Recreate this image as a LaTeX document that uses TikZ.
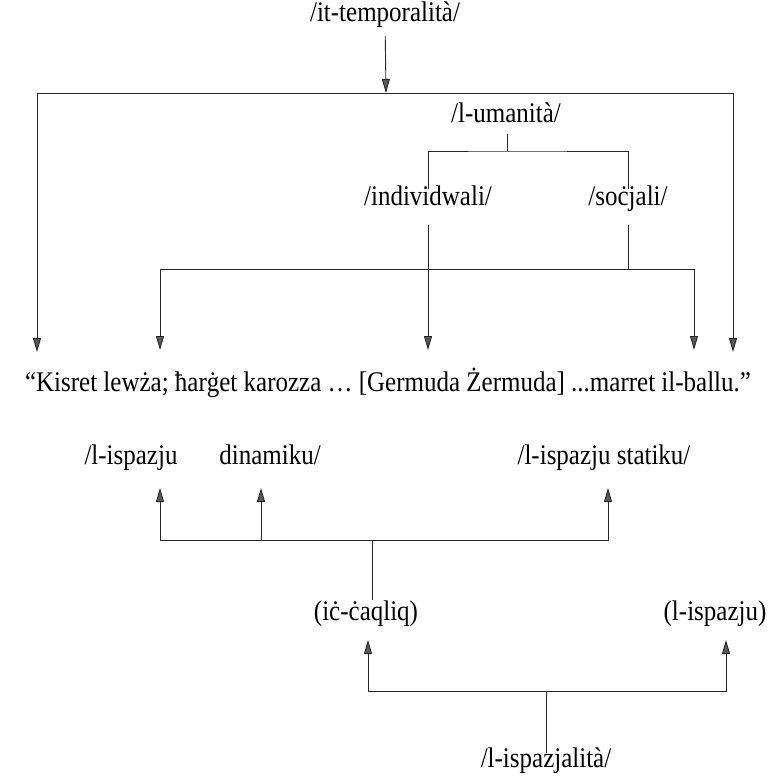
\documentclass[tikz,border=0pt]{standalone}
\usepackage{fontspec}
\setmainfont{Liberation Serif}[FakeStretch=0.88]
\usetikzlibrary{arrows.meta}
\begin{document}
\begin{tikzpicture}[x=1pt,y=-1pt,
  lbl/.style={font=\fontsize{28.4}{32}\selectfont, inner sep=5pt, text=black, text height=0.9em, text depth=0.25em},
  ln/.style={draw=black!85, line width=0.9pt},
  arr/.style={ln, -{Triangle[length=14pt,width=8pt,fill=black!65]}}]
\useasboundingbox (0,0) rectangle (771,778);
% top
\node[lbl] (temp) at (385,18) {/it-temporalità/};
\coordinate (j1) at (386,93);
\coordinate (tL) at (37,352);
\coordinate (tR) at (733,352);
\draw[arr, shorten <=7pt] (temp) -- (j1);
\draw[arr] (j1) -| (tL);
\draw[arr] (j1) -| (tR);
% umanita
\node[lbl] (uman) at (506,119) {/l-umanità/};
\coordinate (j2) at (507,151);
\node[lbl, inner sep=7pt] (indiv) at (428,202) {/individwali/};
\node[lbl, inner sep=7pt] (socj) at (628,202) {/soċjali/};
\draw[ln, shorten <=4pt] (uman.south -| j2) -- (j2);
\draw[ln] (indiv.north) |- (j2) -| (socj.north);
\coordinate (tA) at (160,350);
\coordinate (tB) at (428,350);
\coordinate (tC) at (694,350);
\coordinate (j3) at (628,269);
\draw[arr, shorten <=10pt] (indiv.south) -- (tB);
\draw[ln, shorten <=10pt] (socj.south) -- (j3);
\draw[arr] (j3) -| (tA);
\draw[arr] (j3) -| (tC);
% sentence
\node[lbl] (sent) at (388,388) {“Kisret lewża; ħarġet karozza … [Germuda Żermuda] ...marret il-ballu.”};
% spazju
\node[lbl] (isp) at (131,461) {/l-ispazju};
\node[lbl] (din) at (270,461) {dinamiku/};
\node[lbl] (stat) at (604,461) {/l-ispazju statiku/};
\coordinate (j4) at (372,540);
\coordinate (uA) at (160,488);
\coordinate (uB) at (261,488);
\coordinate (uC) at (608,488);
\draw[arr] (j4) -| (uA);
\draw[arr] (j4) -| (uB);
\draw[arr] (j4) -| (uC);
\node[lbl] (caq) at (366,617) {(iċ-ċaqliq)};
\node[lbl] (lsp) at (715,617) {(l-ispazju)};
\draw[ln, shorten <=6pt] (j4 |- caq.north) -- (j4);
\coordinate (j5) at (546,691);
\coordinate (uD) at (368,640);
\coordinate (uE) at (726,640);
\draw[arr] (j5) -| (uD);
\draw[arr] (j5) -| (uE);
\node[lbl] (spz) at (546,764) {/l-ispazjalità/};
\draw[ln] (spz.north -| j5) -- (j5);
\end{tikzpicture}
\end{document}
